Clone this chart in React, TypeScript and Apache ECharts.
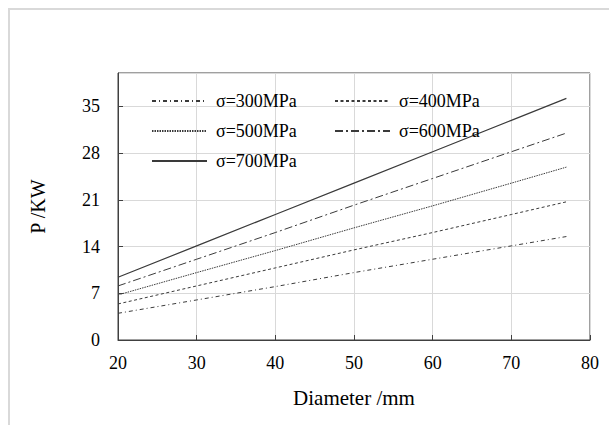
import React, { useEffect, useRef } from "react";
import * as echarts from "echarts";

const diameters = [20, 30, 40, 50, 60, 70, 77];
const seriesNames = ["σ=300MPa", "σ=400MPa", "σ=500MPa", "σ=600MPa", "σ=700MPa"];
const p300 = [4.0, 6.0, 8.0, 10.1, 12.1, 14.1, 15.5];
const p400 = [5.4, 8.1, 10.8, 13.5, 16.1, 18.8, 20.7];
const p500 = [6.75, 10.1, 13.4, 16.8, 20.1, 23.5, 25.9];
const p600 = [8.1, 12.1, 16.1, 20.2, 24.2, 28.2, 31.0];
const p700 = [9.4, 14.1, 18.8, 23.5, 28.2, 32.9, 36.2];
const yTicks = [0, 7, 14, 21, 28, 35];

const allValues = [p300, p400, p500, p600, p700];
const dashes: any[] = [[4, 3, 1, 3], [3, 2.5], [1.5, 1], [8, 3, 2, 3], "solid"];
const legendPos = [
  { left: 151, top: 92 },
  { left: 334, top: 92 },
  { left: 151, top: 122 },
  { left: 334, top: 122 },
  { left: 151, top: 152 },
];

export default function App() {
  const ref = useRef<HTMLDivElement>(null);
  useEffect(() => {
    document.body.style.margin = "0";
    const chart = echarts.init(ref.current!, undefined, { renderer: "svg" });
    const font = "'Liberation Serif', 'Times New Roman', serif";
    const lineColor = "#3a3a3a";
    chart.setOption({
      animation: false,
      backgroundColor: "#ffffff",
      textStyle: { fontFamily: font },
      grid: {
        left: 118,
        top: 73,
        right: 19,
        bottom: 85,
        show: true,
        borderColor: "#404040",
        borderWidth: 1,
        backgroundColor: "transparent",
      },
      legend: seriesNames.map((n, i) => ({
        data: [n],
        left: legendPos[i].left,
        top: legendPos[i].top,
        padding: 0,
        itemWidth: 55,
        itemHeight: 14,
        itemStyle: { opacity: 0 },
        textStyle: {
          fontFamily: font,
          fontSize: 18,
          fontWeight: "normal",
          color: "#000",
          padding: [0, 0, 0, 4],
        },
        selectedMode: false,
      })),
      xAxis: {
        type: "value",
        min: 20,
        max: 80,
        interval: 10,
        name: "Diameter /mm",
        nameLocation: "middle",
        nameGap: 47,
        nameTextStyle: { fontFamily: font, fontSize: 21, color: "#000" },
        axisLine: { show: true, lineStyle: { color: "#404040", width: 1 } },
        axisTick: { show: true, inside: true, length: 5, lineStyle: { color: "#404040" } },
        axisLabel: { fontFamily: font, fontSize: 18, color: "#000", margin: 14 },
        splitLine: { show: true, lineStyle: { color: "#d9d9d9", width: 1 } },
      },
      yAxis: {
        type: "value",
        min: yTicks[0],
        max: 40,
        interval: yTicks[1] - yTicks[0],
        name: "P /KW",
        nameLocation: "middle",
        nameGap: 70,
        nameRotate: 90,
        nameTextStyle: { fontFamily: font, fontSize: 20, color: "#000" },
        axisLine: { show: true, lineStyle: { color: "#404040", width: 1 } },
        axisTick: { show: true, inside: true, length: 5, lineStyle: { color: "#404040" } },
        axisLabel: {
          fontFamily: font,
          fontSize: 18,
          color: "#000",
          margin: 18,
          showMaxLabel: false,
          formatter: (v: number) => (yTicks.includes(v) ? String(v) : ""),
        },
        splitLine: { show: true, lineStyle: { color: "#d9d9d9", width: 1 } },
      },
      series: seriesNames.map((n, i) => ({
        name: n,
        type: "line",
        symbol: "none",
        showSymbol: false,
        data: diameters.map((d, j) => [d, allValues[i][j]]),
        lineStyle: { color: lineColor, width: i === 4 ? 1.2 : 1, type: dashes[i] },
        itemStyle: { color: lineColor },
      })),
      graphic: [
        {
          type: "line",
          shape: { x1: 8, y1: 9, x2: 609, y2: 9 },
          style: { stroke: "#d9d9d9", lineWidth: 2 },
        },
        {
          type: "line",
          shape: { x1: 9, y1: 8, x2: 9, y2: 425 },
          style: { stroke: "#d9d9d9", lineWidth: 2 },
        },
      ],
    });
    return () => chart.dispose();
  }, []);
  return (
    <div
      ref={ref}
      style={{ width: 609, height: 425, position: "absolute", left: 0, top: 0 }}
    />
  );
}
